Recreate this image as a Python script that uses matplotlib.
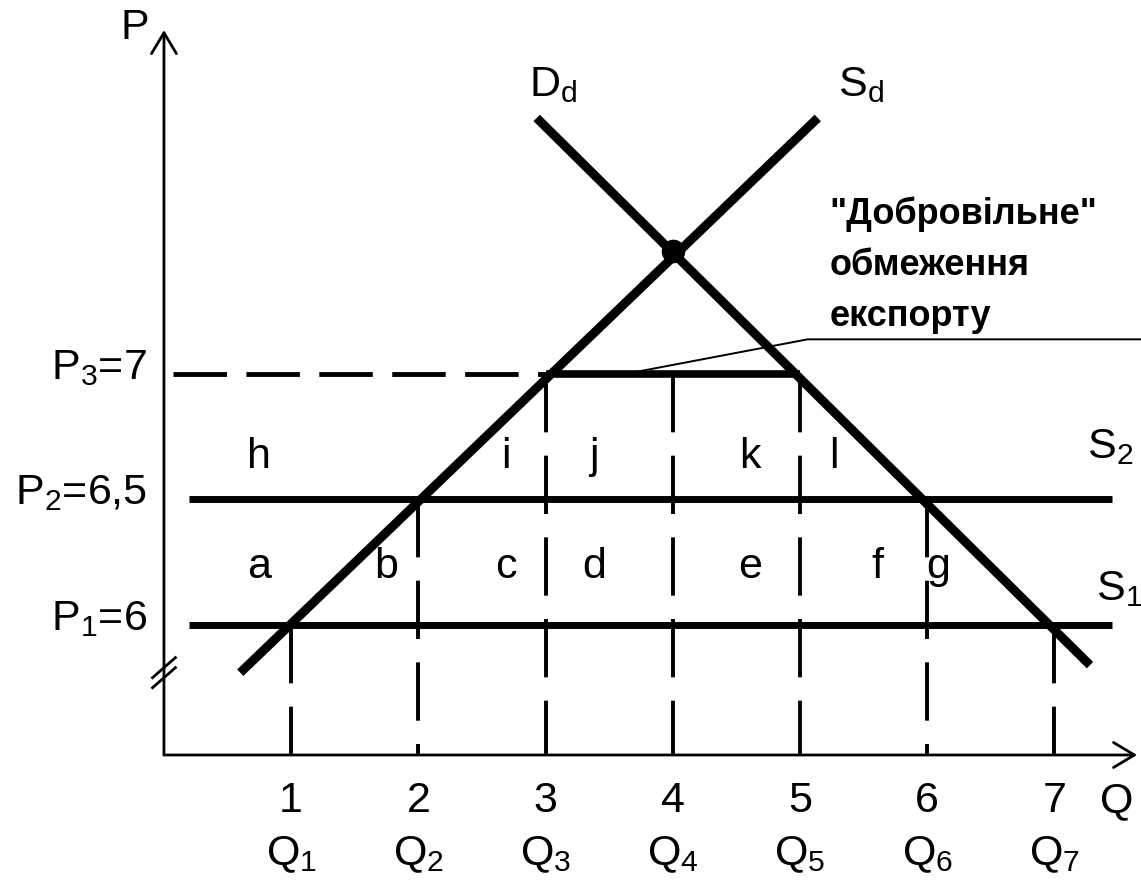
import matplotlib
matplotlib.use("Agg")
import matplotlib.pyplot as plt

plt.rcParams['font.family'] = ['Liberation Sans', 'DejaVu Sans']
plt.rcParams['mathtext.fontset'] = 'custom'
plt.rcParams['mathtext.rm'] = 'Liberation Sans'
plt.rcParams['mathtext.it'] = 'Liberation Sans'
plt.rcParams['mathtext.default'] = 'rm'

# quantities on the Q axis and price levels
q_ticks = [1, 2, 3, 4, 5, 6, 7]
q_labels = ['Q$_1$', 'Q$_2$', 'Q$_3$', 'Q$_4$', 'Q$_5$', 'Q$_6$', 'Q$_7$']
p_levels = [6, 6.5, 7]
p_labels = ['P$_1$=6', 'P$_2$=6,5', 'P$_3$=7']

# domestic supply / demand (end points)
sd_q = [0.6, 5.14]
sd_p = [5.81, 8.02]
dd_q = [2.93, 7.28]
dd_p = [8.02, 5.84]
eq_q, eq_p = 4, 7.49

# world supply lines S1, S2 span
s_q = [0.2, 7.45]

# vertical dashed drops: Q value and the price they start from
drop_q = [1, 2, 3, 4, 5, 6, 7]
drop_p = [6, 6.5, 7, 7, 7, 6.5, 6]

# area letters
upper_letters = ['h', 'i', 'j', 'k', 'l']
upper_q = [0.75, 2.69, 3.38, 4.61, 5.27]
lower_letters = ['a', 'b', 'c', 'd', 'e', 'f', 'g']
lower_q = [0.75, 1.75, 2.69, 3.38, 4.61, 5.61, 6.09]

note_lines = ['"Добровільне"', 'обмеження', 'експорту']
note_p = [7.598, 7.394, 7.191]

q_base = 5.482   # where the Q axis sits
fs = 31

fig = plt.figure(figsize=(11.41, 8.83), dpi=100)
ax = fig.add_axes([0, 0, 1, 1])
ax.set_xlim(-1.289, 7.681)
ax.set_ylim(4.972, 8.490)
ax.axis('off')

# axes with arrows
arr = dict(arrowstyle='->,head_length=0.5,head_width=0.3', lw=2, color='black',
           mutation_scale=30, shrinkA=0, shrinkB=0)
ax.annotate('', xy=(0, 8.37), xytext=(0, q_base), arrowprops=arr)
ax.annotate('', xy=(7.65, q_base), xytext=(0, q_base), arrowprops=arr)
ax.text(-0.228, 8.38, 'P', fontsize=fs, ha='center', va='center')
ax.text(7.49, 5.255, 'Q', fontsize=fs, ha='center', va='baseline')

# axis break
for off in [0, 0.04]:
    ax.plot([-0.09, 0.09], [5.75 + off, 5.83 + off], color='black', lw=2)

# world supply lines
ax.plot(s_q, [p_levels[0]] * 2, color='black', lw=5, solid_capstyle='butt')
ax.plot(s_q, [p_levels[1]] * 2, color='black', lw=5, solid_capstyle='butt')

# P3 line: dashed up to Q3, solid (export restraint) Q3..Q5
ax.plot([0.07, 3], [p_levels[2]] * 2, color='black', lw=3.5, dashes=(11, 4))
ax.plot([3, 5], [p_levels[2]] * 2, color='black', lw=5.5, solid_capstyle='butt')

# vertical dashed lines
for q, p in zip(drop_q, drop_p):
    ax.plot([q, q], [p, q_base], color='black', lw=2.8, dashes=(15, 6))

# domestic curves
ax.plot(sd_q, sd_p, color='black', lw=6.5, solid_capstyle='butt')
ax.plot(dd_q, dd_p, color='black', lw=6.5, solid_capstyle='butt')
ax.plot([eq_q], [eq_p], 'o', color='black', markersize=16)

ax.text(2.87, 8.108, 'D$_d$', fontsize=fs, ha='left', va='baseline')
ax.text(5.30, 8.108, 'S$_d$', fontsize=fs, ha='left', va='baseline')
ax.text(7.26, 6.665, 'S$_2$', fontsize=fs, ha='left', va='baseline')
ax.text(7.33, 6.10, 'S$_1$', fontsize=fs, ha='left', va='baseline')

# price labels on the left
for p, lab in zip(p_levels, p_labels):
    ax.text(-0.134, p - 0.02, lab, fontsize=fs, ha='right', va='baseline')

# area letters
for q, lab in zip(upper_q, upper_letters):
    ax.text(q, 6.625, lab, fontsize=fs, ha='center', va='baseline')
for q, lab in zip(lower_q, lower_letters):
    ax.text(q, 6.187, lab, fontsize=fs, ha='center', va='baseline')

# tick numbers and Q labels
for q, lab in zip(q_ticks, q_labels):
    ax.text(q, 5.255, str(q), fontsize=fs, ha='center', va='baseline')
    ax.text(q, 5.044, lab, fontsize=fs, ha='center', va='baseline')

# export restraint note with leader line
for p, line in zip(note_p, note_lines):
    ax.text(5.23, p, line, fontsize=26, fontweight='bold',
            ha='left', va='baseline')
ax.plot([3.625, 5.06, 7.68], [7.0, 7.138, 7.138], color='black', lw=1.4)

fig.savefig('out.png', dpi=100)
